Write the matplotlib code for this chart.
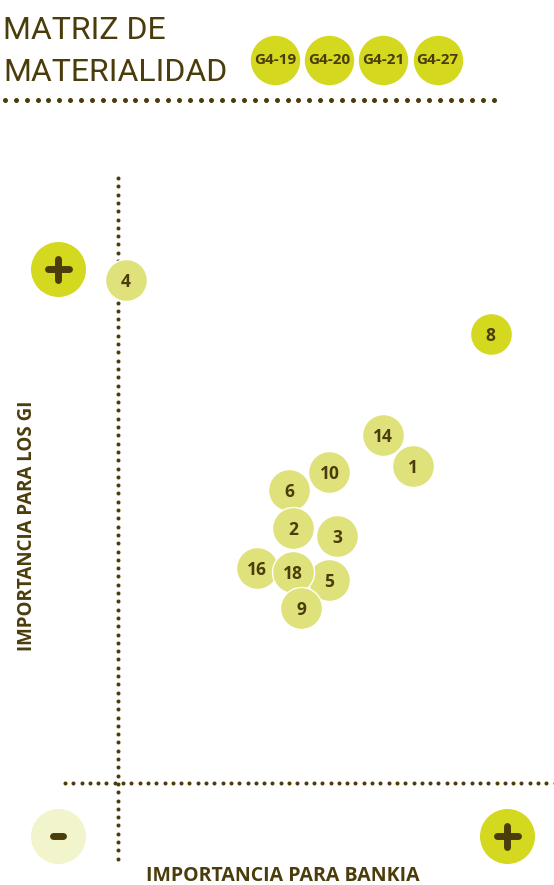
import numpy as np
import matplotlib.pyplot as plt

# temas materiales: (importancia para Bankia, importancia para los GI), escala 0-10
temas = ['4', '8', '14', '1', '10', '6', '3', '2', '16', '5', '18', '9']
imp_bankia = [0.18, 8.55, 6.07, 6.76, 4.85, 3.92, 5.02, 4.01, 3.18, 4.85, 4.01, 4.20]
imp_gi = [8.27, 7.37, 5.71, 5.20, 5.10, 4.80, 4.04, 4.18, 3.51, 3.31, 3.45, 2.85]
destacado = ['8']

indicadores = ['G4-19', 'G4-20', 'G4-21', 'G4-27']

BROWN = '#4b3c0b'
LIME = '#d4d81e'
LIGHT = '#dfe27a'
PALE = '#f2f4cb'

fig = plt.figure(figsize=(5.54, 8.85), dpi=100)

# overlay in pixel units for the decoration
deco = fig.add_axes([0, 0, 1, 1])
deco.set_xlim(0, 554)
deco.set_ylim(885, 0)
deco.axis('off')

# title
deco.text(3, 39, 'MATRIZ DE', fontsize=23, color=BROWN, family='Roboto',
          fontweight='normal', va='baseline', ha='left')
deco.text(3, 81, 'MATERIALIDAD', fontsize=23, color=BROWN, family='Roboto',
          fontweight='normal', va='baseline', ha='left')

# GRI badges
bx = 275 + 54.2 * np.arange(len(indicadores))
deco.scatter(bx, [60] * len(bx), s=(49.4 * 0.72) ** 2, color=LIME, lw=0, zorder=2)
for x, t in zip(bx, indicadores):
    deco.text(x, 60, t, fontsize=11, fontweight='bold', family='Open Sans',
              color=BROWN, ha='center', va='center', zorder=3)

# dotted rules
tx = np.linspace(5, 494, 46)
deco.scatter(tx, [100] * len(tx), s=(5 * 0.72) ** 2, color=BROWN, lw=0)
vy = np.arange(178, 862, 8.3)
deco.scatter([118.3] * len(vy), vy, s=(4 * 0.72) ** 2, color=BROWN, lw=0)
hx = np.arange(65, 556, 8.3)
deco.scatter(hx, [783] * len(hx), s=(4 * 0.72) ** 2, color=BROWN, lw=0)

# plus / minus icons
def icon(x, y, face, plus=True):
    deco.scatter([x], [y], s=(55 * 0.72) ** 2, color=face, lw=0, zorder=2)
    h = 10.5 if plus else 5
    deco.plot([x - h, x + h], [y, y], color=BROWN, lw=5, solid_capstyle='round', zorder=3)
    if plus:
        deco.plot([x, x], [y - h, y + h], color=BROWN, lw=5, solid_capstyle='round', zorder=3)

icon(58, 269, LIME)
icon(58, 836, PALE, plus=False)
icon(507, 836, LIME)

# axis titles
deco.text(283, 876, 'IMPORTANCIA PARA BANKIA', fontsize=14, fontweight='bold',
          family='Open Sans', color=BROWN, ha='center', va='center')
deco.text(27, 526, 'IMPORTANCIA PARA LOS GI', fontsize=13.5, fontweight='bold',
          family='Open Sans', color=BROWN, ha='center', va='center', rotation=90)

# matrix
ax = fig.add_axes([118 / 554, 104 / 885, 436 / 554, 606 / 885])
ax.set_xlim(0, 10)
ax.set_ylim(0, 10)
ax.axis('off')
ax.patch.set_alpha(0)

for i, (t, x, y) in enumerate(zip(temas, imp_bankia, imp_gi)):
    c = LIME if t in destacado else LIGHT
    ax.scatter([x], [y], s=(42 * 0.72) ** 2, color=c, edgecolor='white',
               lw=1, zorder=2 + 2 * i, clip_on=False)
    ax.text(x, y, t, fontsize=12.5, fontweight='bold', family='Open Sans',
            color=BROWN, ha='center', va='center_baseline', zorder=3 + 2 * i)

fig.savefig('out.png', dpi=100)
